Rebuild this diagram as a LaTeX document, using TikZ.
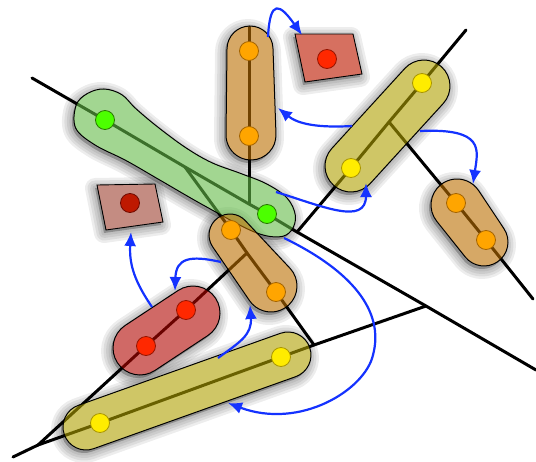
\documentclass[tikz,border=0pt]{standalone}
\usetikzlibrary{arrows.meta}
\definecolor{gfill}{RGB}{100,188,72}
\definecolor{ofill}{RGB}{187,110,0}
\definecolor{yfill}{RGB}{175,160,0}
\definecolor{rfill}{RGB}{177,5,0}
\definecolor{gnode}{RGB}{76,255,0}
\definecolor{gbord}{RGB}{40,120,0}
\definecolor{onode}{RGB}{255,165,0}
\definecolor{obord}{RGB}{165,100,0}
\definecolor{ynode}{RGB}{255,236,0}
\definecolor{ybord}{RGB}{170,150,0}
\definecolor{rnode}{RGB}{255,40,0}
\definecolor{rbord}{RGB}{150,20,0}
\definecolor{dnode}{RGB}{190,25,0}
\definecolor{dbord}{RGB}{110,10,0}
\definecolor{sqa}{RGB}{214,112,96}
\definecolor{sqb}{RGB}{196,140,130}
\definecolor{arrblue}{RGB}{20,50,255}

\newcommand\setcap[6]{%
  \pgfmathsetmacro\bcx{#1}\pgfmathsetmacro\bcy{#2}%
  \pgfmathsetmacro\bL{veclen(#3-#1,#4-#2)}%
  \pgfmathsetmacro\bang{atan2(#4-#2,#3-#1)}%
  \pgfmathsetmacro\bra{#5}\pgfmathsetmacro\brb{#6}%
  \pgfmathsetmacro\bth{acos((#5-#6)/\bL)}}
\newcommand\capsule{(\bL,0) ++(-\bth:\brb) arc[start angle=-\bth, end angle=\bth, radius=\brb] -- (\bth:\bra) arc[start angle=\bth, end angle={360-\bth}, radius=\bra] -- cycle}
\newcommand\greenpath{plot[smooth cycle, tension=0.6] coordinates {(-31,2) (-27,-14) (-15,-26) (3,-30) (22,-25) (50,-20) (85,-16) (115,-16) (145,-21) (173,-25) (198,-23) (214,-12) (218,3) (210,15) (185,23) (130,25) (80,25) (40,25) (5,27) (-20,22)}}
\newcommand\inframe[1]{\begin{scope}[shift={(\bcx,\bcy)}, rotate=\bang]#1\end{scope}}
\newcommand\shadowlayers[1]{%
  \begin{scope}[rotate=-\bang, shift={(-2,3)}, rotate=\bang]
    \foreach \w in {20,15,10,5}{\filldraw[black, opacity=0.07, line width=\w pt, line join=round] #1;}
  \end{scope}}
\newcommand\shadowwhite[1]{\shadowlayers{#1}\fill[white] #1;}
\newcommand\colorblob[2]{\filldraw[fill=#1, fill opacity=0.6, draw=black, line width=1pt] #2;}

\newcommand\blobG{\def\bcx{104}\def\bcy{119}\def\bang{29.97}}
\newcommand\blobOV{\setcap{250}{49}{251}{135}{23}{25}}
\newcommand\blobYU{\setcap{351}{166}{424}{86}{26}{26}}
\newcommand\blobOR{\setcap{457}{205}{484}{242}{26}{24}}
\newcommand\blobOM{\setcap{230}{235}{271}{286}{21}{26}}
\newcommand\blobRB{\setcap{193}{313}{140}{348}{27}{27}}
\newcommand\blobYB{\setcap{86}{427}{288}{355}{23}{23}}

\begin{document}
\begin{tikzpicture}[x=1pt, y=1pt, yscale=-1,
  tree/.style={line width=3pt, line cap=round, line join=round, black},
  arr/.style={line width=2.2pt, draw=arrblue, -{Latex[length=14pt,width=12pt]}},
  vtx/.style={circle, minimum size=19pt, inner sep=0pt, line width=0.8pt}]
\useasboundingbox (0,0) rectangle (536,461);

% coordinates of the tree
\coordinate (g0) at (32,78);
\coordinate (g1) at (105,120);
\coordinate (j4) at (185,167);
\coordinate (jv) at (249,204);
\coordinate (g2) at (267,214);
\coordinate (j5) at (297,232);
\coordinate (j3) at (426,306);
\coordinate (gend) at (536,370);
\coordinate (yend) at (466,30);
\coordinate (y4) at (422,83);
\coordinate (jb) at (389,122);
\coordinate (y3) at (351,168);
\coordinate (o5) at (456,203);
\coordinate (o6) at (486,240);
\coordinate (oend) at (533,299);
\coordinate (vtop) at (249,27);
\coordinate (o1) at (249,51);
\coordinate (o2) at (249,136);
\coordinate (o3) at (231,230);
\coordinate (jr) at (247,253);
\coordinate (o4) at (276,292);
\coordinate (j2) at (314,345);
\coordinate (rt) at (13,457);
\coordinate (j1) at (38,445);
\coordinate (r2) at (146,346);
\coordinate (r1) at (186,310);
\coordinate (y1) at (100,423);
\coordinate (y2) at (281,357);
\coordinate (s1) at (327,59);
\coordinate (s2) at (130,203);

% shadows and white under-fills of the blobs
\blobG\inframe{\shadowwhite{\greenpath}}
\blobOV\inframe{\shadowwhite{\capsule}}
\blobYU\inframe{\shadowwhite{\capsule}}
\blobOR\inframe{\shadowwhite{\capsule}}
\blobOM\inframe{\shadowwhite{\capsule}}
\blobRB\inframe{\shadowwhite{\capsule}}
\blobYB\inframe{\shadowwhite{\capsule}}

% tree lines
\draw[tree] (g0) -- (g1) -- (j4) -- (jv) -- (g2) -- (j5) -- (j3) -- (gend);
\draw[tree] (yend) -- (y4) -- (jb) -- (y3) -- (j5);
\draw[tree] (jb) -- (o5) -- (o6) -- (oend);
\draw[tree] (vtop) -- (o1) -- (o2) -- (jv);
\draw[tree] (j4) -- (o3) -- (jr) -- (o4) -- (j2);
\draw[tree] (rt) -- (j1) -- (r2) -- (r1) -- (jr);
\draw[tree] (j1) -- (y1) -- (y2) -- (j2) -- (j3);

% coloured blobs
\blobG\inframe{\colorblob{gfill}{\greenpath}}
\blobOV\inframe{\colorblob{ofill}{\capsule}}
\blobYU\inframe{\colorblob{yfill}{\capsule}}
\blobOR\inframe{\colorblob{ofill}{\capsule}}
\blobOM\inframe{\colorblob{ofill}{\capsule}}
\blobRB\inframe{\colorblob{rfill}{\capsule}}
\blobYB\inframe{\colorblob{yfill}{\capsule}}

% squares
\def\bang{0}
\shadowlayers{(295,34) -- (353,34) -- (362,74) -- (305,82) -- cycle}
\filldraw[fill=sqa, draw=black, line width=0.9pt] (295,34) -- (353,34) -- (362,74) -- (305,82) -- cycle;
\shadowlayers{(97,185) -- (155,184) -- (163,222) -- (106,230) -- cycle}
\filldraw[fill=sqb, draw=black, line width=0.9pt] (97,185) -- (155,184) -- (163,222) -- (106,230) -- cycle;

% nodes
\node[vtx, fill=gnode, draw=gbord] (G1) at (g1) {};
\node[vtx, fill=gnode, draw=gbord] (G2) at (g2) {};
\node[vtx, fill=onode, draw=obord] (O1) at (o1) {};
\node[vtx, fill=onode, draw=obord] (O2) at (o2) {};
\node[vtx, fill=onode, draw=obord] (O3) at (o3) {};
\node[vtx, fill=onode, draw=obord] (O4) at (o4) {};
\node[vtx, fill=onode, draw=obord] (O5) at (o5) {};
\node[vtx, fill=onode, draw=obord] (O6) at (o6) {};
\node[vtx, fill=ynode, draw=ybord] (Y1) at (y1) {};
\node[vtx, fill=ynode, draw=ybord] (Y2) at (y2) {};
\node[vtx, fill=ynode, draw=ybord] (Y3) at (y3) {};
\node[vtx, fill=ynode, draw=ybord] (Y4) at (y4) {};
\node[vtx, fill=rnode, draw=rbord] (R1) at (r1) {};
\node[vtx, fill=rnode, draw=rbord] (R2) at (r2) {};
\node[vtx, fill=rnode, draw=rbord] (S1) at (s1) {};
\node[vtx, fill=dnode, draw=dbord] (S2) at (s2) {};

% blue arrows
\coordinate (a1s) at (268,37);  \coordinate (a1e) at (302,35);
\coordinate (a2s) at (352,126); \coordinate (a2e) at (278,108);
\coordinate (a3s) at (420,131); \coordinate (a3e) at (473,184);
\coordinate (a4s) at (276,192); \coordinate (a4e) at (366,183);
\coordinate (a5s) at (284,238); \coordinate (a5m) at (373,355); \coordinate (a5e) at (228,403);
\coordinate (a6s) at (152,307); \coordinate (a6e) at (131,232);
\coordinate (a7s) at (221,262); \coordinate (a7e) at (175,291);
\coordinate (a8s) at (218,358); \coordinate (a8e) at (250,305);
\draw[arr] (a1s) .. controls (270,-2) and (280,4) .. (a1e);
\draw[arr] (a2s) .. controls (318,128) and (298,124) .. (a2e);
\draw[arr] (a3s) .. controls (485,128) and (478,150) .. (a3e);
\draw[arr] (a4s) .. controls (322,206) and (366,226) .. (a4e);
\draw[arr] (a5s) .. controls (350,270) and (385,310) .. (a5m) .. controls (365,390) and (300,430) .. (a5e);
\draw[arr] (a6s) .. controls (135,282) and (129,265) .. (a6e);
\draw[arr] (a7s) .. controls (190,255) and (176,258) .. (a7e);
\draw[arr] (a8s) .. controls (240,342) and (252,335) .. (a8e);
\end{tikzpicture}
\end{document}
